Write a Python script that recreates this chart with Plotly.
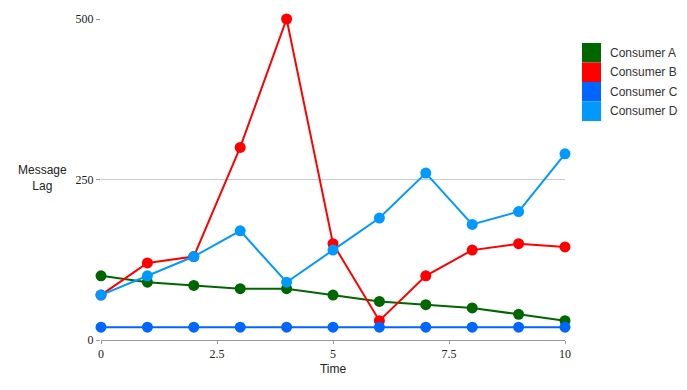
import plotly.graph_objects as go

time = list(range(11))
series_names = ["Consumer A", "Consumer B", "Consumer C", "Consumer D"]
consumer_a = [100, 90, 85, 80, 80, 70, 60, 55, 50, 40, 30]
consumer_b = [70, 120, 130, 300, 500, 150, 30, 100, 140, 150, 145]
consumer_c = [20, 20, 20, 20, 20, 20, 20, 20, 20, 20, 20]
consumer_d = [70, 100, 130, 170, 90, 140, 190, 260, 180, 200, 290]
colors = ["#006600", "#ff0000", "#0066ff", "#0099ff"]
x_ticks = [0, 2.5, 5, 7.5, 10]
y_ticks = [0, 250, 500]

# page body has an 8px margin; figure origin is at (8, 8)
OFF = 8
PL, PR, PT, PB = 101, 565, 19, 340  # plot area in page pixels
W, H = 671, 374

def px(x):
    return (x - PL) / (PR - PL)

def py(y):
    return (PB - y) / (PB - PT)

fig = go.Figure()
for name, vals, col in zip(series_names, [consumer_a, consumer_b, consumer_c, consumer_d], colors):
    fig.add_trace(go.Scatter(
        x=time, y=vals, name=name, mode="lines+markers",
        line=dict(color=col, width=2),
        marker=dict(color=col, size=11),
        showlegend=False, cliponaxis=False,
    ))

# legend drawn as shapes + annotations
sw = 19.5
top = 43
for i, (name, col) in enumerate(zip(series_names, colors)):
    y0 = top + i * sw
    fig.add_shape(type="rect", xref="paper", yref="paper",
                  x0=px(582), x1=px(601),
                  y0=py(y0), y1=py(y0 + sw),
                  line=dict(width=0), fillcolor=col)
    fig.add_annotation(xref="paper", yref="paper",
                       x=px(608), y=py(y0 + sw / 2),
                       text=name, showarrow=False, xanchor="left", yanchor="middle",
                       font=dict(family="Liberation Sans, Arial", size=12, color="#333333"))

fig.add_annotation(xref="paper", yref="paper", x=px(42), y=py(178),
                   text="Message<br>Lag", showarrow=False, xanchor="center", yanchor="middle",
                   font=dict(family="Liberation Sans, Arial", size=12, color="#222222"))

fig.update_layout(
    width=W, height=H,
    margin=dict(l=PL - OFF, r=OFF + W - PR, t=PT - OFF, b=OFF + H - PB, pad=0, autoexpand=False),
    paper_bgcolor="white", plot_bgcolor="white",
    xaxis=dict(range=[0, 10], tickvals=x_ticks, ticktext=["0", "2.5", "5", "7.5", "10"],
               showgrid=False, zeroline=False, showline=True, linecolor="#999999", linewidth=1,
               ticks="outside", ticklen=3, tickcolor="#999999", automargin=False,
               tickfont=dict(family="Liberation Serif, Times New Roman", size=12, color="#222222"),
               title=dict(text="Time", font=dict(family="Liberation Sans, Arial", size=12, color="#222222"), standoff=4)),
    yaxis=dict(range=[0, 500], tickvals=y_ticks, automargin=False,
               showgrid=True, gridcolor="#cccccc", zeroline=False, showline=False,
               ticks="outside", ticklen=4, tickcolor="#999999",
               tickfont=dict(family="Liberation Serif, Times New Roman", size=12, color="#222222")),
)

fig.write_html("out.html")
